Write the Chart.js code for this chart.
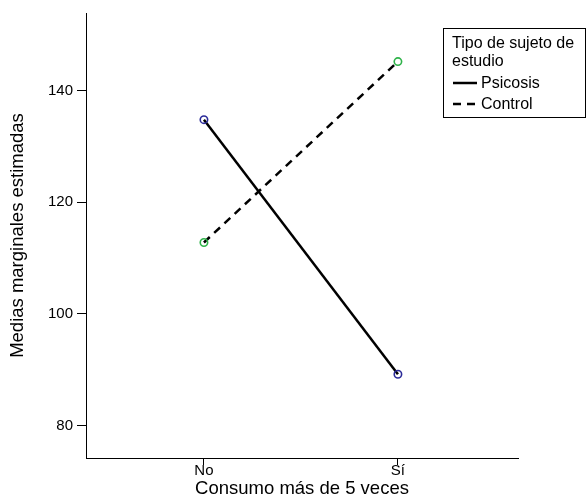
<!DOCTYPE html>
<html>
<head>
<meta charset="utf-8">
<script src="https://cdn.jsdelivr.net/npm/chart.js@4.4.0/dist/chart.umd.min.js"></script>
<style>
html,body{margin:0;padding:0;background:#fff;}
#wrap{width:586px;height:500px;position:relative;}
</style>
</head>
<body>
<div id="wrap"><canvas id="c" width="586" height="500"></canvas></div>
<script>
const categories = ["No", "Sí"];
const psicosis = [134.8, 89.2];
const control = [112.8, 145.2];
const yTicks = [80, 100, 120, 140];
const seriesNames = ["Psicosis", "Control"];
const legendTitle = ["Tipo de sujeto de", "estudio"];
const xTitle = "Consumo más de 5 veces";
const yTitle = "Medias marginales estimadas";

const FONT = "'Liberation Sans', Arial, sans-serif";

const legendPlugin = {
  id: 'boxLegend',
  afterDraw(chart) {
    const ctx = chart.ctx;
    ctx.save();
    const x0 = 443.5, y0 = 28.5, w = 142, h = 89;
    ctx.fillStyle = '#fff';
    ctx.fillRect(x0, y0, w, h);
    ctx.strokeStyle = '#000';
    ctx.lineWidth = 1;
    ctx.strokeRect(x0, y0, w, h);
    ctx.fillStyle = '#000';
    ctx.font = '16px ' + FONT;
    ctx.textBaseline = 'middle';
    ctx.textAlign = 'left';
    ctx.fillText(legendTitle[0], 452, 44);
    ctx.fillText(legendTitle[1], 452, 62);
    const ds = chart.data.datasets;
    const ys = [83, 104];
    ds.forEach((d, i) => {
      ctx.beginPath();
      ctx.setLineDash(d.borderDash || []);
      ctx.lineWidth = d.borderWidth;
      ctx.strokeStyle = d.borderColor;
      ctx.moveTo(453, ys[i]);
      ctx.lineTo(477, ys[i]);
      ctx.stroke();
      ctx.setLineDash([]);
      ctx.fillText(d.label, 481, ys[i] + 1);
    });
    ctx.restore();
  }
};

new Chart(document.getElementById('c'), {
  type: 'line',
  data: {
    datasets: [
      {
        label: seriesNames[0],
        data: psicosis.map((v, i) => ({x: i, y: v})),
        borderColor: '#000',
        borderWidth: 2.5,
        pointRadius: 3.7,
        pointBorderWidth: 1.6,
        pointBorderColor: '#2b2b99',
        pointBackgroundColor: 'rgba(255,255,255,0)',
        tension: 0
      },
      {
        label: seriesNames[1],
        data: control.map((v, i) => ({x: i, y: v})),
        borderColor: '#000',
        borderWidth: 2.5,
        borderDash: [8, 6],
        pointRadius: 3.7,
        pointBorderWidth: 1.6,
        pointBorderColor: '#2fb34a',
        pointBackgroundColor: 'rgba(255,255,255,0)',
        tension: 0
      }
    ]
  },
  options: {
    responsive: false,
    animation: false,
    layout: { padding: { left: 0, right: 68, top: 12, bottom: 0 } },
    plugins: { legend: { display: false }, tooltip: { enabled: false } },
    scales: {
      x: {
        type: 'linear',
        min: -0.608,
        max: 1.619,
        afterBuildTicks: s => { s.ticks = categories.map((c, i) => ({value: i})); },
        afterFit: s => { s.height = 42; },
        ticks: {
          callback: v => categories[v],
          color: '#000',
          font: { family: FONT, size: 15 },
          padding: -3,
          maxRotation: 0,
          autoSkip: false
        },
        grid: { drawOnChartArea: false, drawTicks: true, tickLength: 7, color: '#000', lineWidth: 1 },
        border: { display: true, color: '#000', width: 1 },
        title: { display: true, text: xTitle, color: '#000', font: { family: FONT, size: 18.5 }, padding: { top: 0, bottom: 0 } }
      },
      y: {
        type: 'linear',
        min: 74.2,
        max: 153.9,
        afterBuildTicks: s => { s.ticks = yTicks.map(v => ({value: v})); },
        afterFit: s => { s.width = 86; },
        ticks: {
          color: '#000',
          font: { family: FONT, size: 15 },
          padding: 4
        },
        grid: { drawOnChartArea: false, drawTicks: true, tickLength: 9, color: '#000', lineWidth: 1 },
        border: { display: true, color: '#000', width: 1 },
        title: { display: true, text: yTitle, color: '#000', font: { family: FONT, size: 18.5 }, padding: { top: 7, bottom: 0 } }
      }
    }
  },
  plugins: [legendPlugin]
});
</script>
</body>
</html>
